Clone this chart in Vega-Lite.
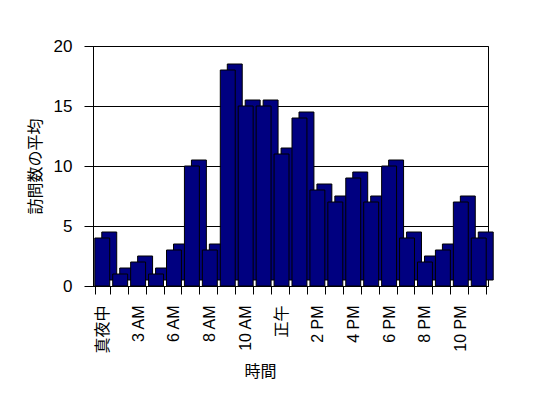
{
  "$schema": "https://vega.github.io/schema/vega-lite/v6.json",
  "width": 395,
  "height": 240,
  "autosize": {"type": "none"},
  "padding": {"left": 93, "top": 46, "right": 60, "bottom": 112},
  "background": "white",
  "config": {
    "view": {"stroke": "black", "strokeWidth": 1},
    "font": "Liberation Sans, Noto Sans CJK JP"
  },
  "data": {
    "values": [
      {"hour": "真夜中", "visits": 4},
      {"hour": "1 AM", "visits": 1},
      {"hour": "3 AM", "visits": 2},
      {"hour": "4 AM", "visits": 1},
      {"hour": "6 AM", "visits": 3},
      {"hour": "7 AM", "visits": 10},
      {"hour": "8 AM", "visits": 3},
      {"hour": "9 AM", "visits": 18},
      {"hour": "10 AM", "visits": 15},
      {"hour": "11 AM", "visits": 15},
      {"hour": "正午", "visits": 11},
      {"hour": "1 PM", "visits": 14},
      {"hour": "2 PM", "visits": 8},
      {"hour": "3 PM", "visits": 7},
      {"hour": "4 PM", "visits": 9},
      {"hour": "5 PM", "visits": 7},
      {"hour": "6 PM", "visits": 10},
      {"hour": "7 PM", "visits": 4},
      {"hour": "8 PM", "visits": 2},
      {"hour": "9 PM", "visits": 3},
      {"hour": "10 PM", "visits": 7},
      {"hour": "11 PM", "visits": 4}
    ]
  },
  "encoding": {
    "x": {
      "field": "hour",
      "type": "nominal",
      "sort": null,
      "scale": {"paddingInner": 0.167, "paddingOuter": 0.1},
      "axis": {
        "title": "時間",
        "titleFontSize": 16,
        "titleFontWeight": "normal",
        "titleColor": "black",
        "titleX": 167,
        "titlePadding": 10,
        "labelAngle": -90,
        "labelFontSize": 16,
        "labelColor": "black",
        "labelPadding": 11,
        "labelOverlap": false,
        "labelExpr": "round(datum.index * 21) % 2 == 0 ? datum.label : ''",
        "tickBand": "extent",
        "tickSize": 8,
        "tickColor": "black",
        "domainColor": "black",
        "grid": false
      }
    },
    "y": {
      "field": "visits",
      "type": "quantitative",
      "scale": {"domain": [0, 20]},
      "axis": {
        "title": "訪問数の平均",
        "titleFontSize": 16,
        "titleFontWeight": "normal",
        "titleColor": "black",
        "titlePadding": 10,
        "values": [0, 5, 10, 15, 20],
        "labelFontSize": 17,
        "labelColor": "black",
        "labelPadding": 12,
        "tickSize": 9,
        "tickColor": "black",
        "domainColor": "black",
        "grid": true,
        "gridColor": "black",
        "gridOpacity": 1
      }
    }
  },
  "layer": [
    {"mark": {"type": "bar", "color": "#000080", "stroke": "black", "strokeWidth": 1, "xOffset": 7, "yOffset": -6}},
    {"mark": {"type": "bar", "color": "#000080", "stroke": "black", "strokeWidth": 1}}
  ]
}
